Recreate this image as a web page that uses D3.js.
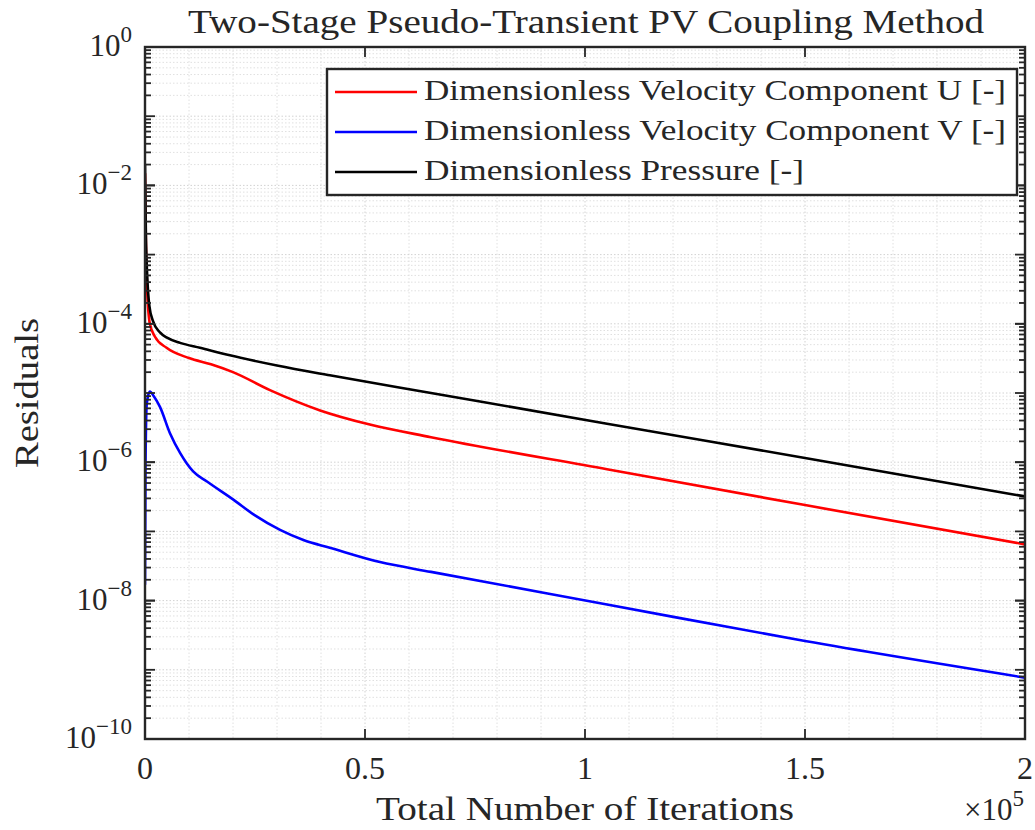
<!DOCTYPE html>
<html>
<head>
<meta charset="utf-8">
<script src="https://cdn.jsdelivr.net/npm/d3@7"></script>
<style>
  body { margin: 0; background: #fff; }
  svg text { font-family: "Liberation Serif", "DejaVu Serif", serif; fill: #262626; }
</style>
</head>
<body>
<svg id="chart" width="1035" height="830"></svg>
<script>
// residual history
var itersU = [0, 200, 500, 1100, 2270, 4900, 10000, 15000, 20000, 28400, 39800, 51100, 65000, 105000, 150000, 200000];
var residU = [1.5e-2, 1.5e-3, 3e-4, 1.0e-4, 6.5e-5, 4.5e-5, 3.2e-5, 2.6e-5, 2.0e-5, 1.1e-5, 5.6e-6, 3.5e-6, 2.3e-6, 7.9e-7, 2.4e-7, 6.5e-8];

var itersV = [0, 120, 400, 1100, 2000, 3400, 5700, 8000, 9500, 11000, 14000, 20000, 25000, 30700, 36000, 42000, 53400, 65000, 105000, 150000, 200000];
var residV = [1.7e-8, 1e-6, 7e-6, 1.05e-5, 9e-6, 6.3e-6, 2.6e-6, 1.35e-6, 9.6e-7, 7.3e-7, 5.3e-7, 2.9e-7, 1.7e-7, 1.05e-7, 7.5e-8, 5.8e-8, 3.6e-8, 2.6e-8, 8.8e-9, 2.6e-9, 7.7e-10];

var itersP = [0, 200, 500, 1000, 1800, 3400, 5000, 8000, 12500, 19300, 30000, 42000, 65000, 105000, 150000, 200000];
var residP = [2e-2, 2e-3, 5e-4, 1.8e-4, 1.1e-4, 7.5e-5, 6.3e-5, 5.3e-5, 4.5e-5, 3.5e-5, 2.5e-5, 1.8e-5, 1.0e-5, 3.6e-6, 1.15e-6, 3.2e-7];

var legendLabels = ['Dimensionless Velocity Component U [-]', 'Dimensionless Velocity Component V [-]', 'Dimensionless Pressure [-]'];
var xTicks = [0, 0.5, 1, 1.5, 2];          // x 10^5
var yTickExps = [0, -2, -4, -6, -8, -10];

var colors = ['#ff0000', '#0000ff', '#000000'];
var series = [
  {x: itersU, y: residU},
  {x: itersV, y: residV},
  {x: itersP, y: residP}
];

var svg = d3.select('#chart');
var L = 145, R = 1025, T = 47, B = 739;
var W = R - L, H = B - T;
var axisColor = '#262626';

var x = d3.scaleLinear().domain([0, 2e5]).range([L, R]);
var y = d3.scaleLog().domain([1e-10, 1]).range([B, T]);

svg.append('rect').attr('x', L).attr('y', T).attr('width', W).attr('height', H).attr('fill', '#fff');

// grid: minor then major
var xMinor = d3.range(0, 2.0001e5, 1e4).filter(function(d){ return d % 5e4 !== 0; });
var xMajor = xTicks.map(function(d){ return d * 1e5; }).filter(function(d){ return d > 0 && d < 2e5; });
var yMinor = [], yMajor = [];
for (var e = -10; e < 0; e++) {
  for (var m = 2; m <= 9; m++) yMinor.push(m * Math.pow(10, e));
  if (e > -10) yMajor.push(Math.pow(10, e));
}

var grid = svg.append('g').attr('stroke-width', 1).attr('stroke-dasharray', '1.5,2');
function vgrid(vals, col) {
  grid.append('g').selectAll('line').data(vals).enter().append('line')
    .attr('x1', function(d){ return x(d); }).attr('x2', function(d){ return x(d); })
    .attr('y1', T).attr('y2', B).attr('stroke', col);
}
function hgrid(vals, col) {
  grid.append('g').selectAll('line').data(vals).enter().append('line')
    .attr('x1', L).attr('x2', R)
    .attr('y1', function(d){ return y(d); }).attr('y2', function(d){ return y(d); })
    .attr('stroke', col);
}
vgrid(xMinor, '#e0e0e0');
hgrid(yMinor, '#e0e0e0');
vgrid(xMajor, '#d2d2d2');
hgrid(yMajor, '#d2d2d2');

// curves
svg.append('clipPath').attr('id', 'clip').append('rect')
  .attr('x', L).attr('y', T).attr('width', W).attr('height', H);

var line = d3.line()
  .x(function(d){ return x(d[0]); })
  .y(function(d){ return y(d[1]); })
  .curve(d3.curveMonotoneX);

var curves = svg.append('g').attr('clip-path', 'url(#clip)');
series.forEach(function(s, i){
  curves.append('path')
    .datum(d3.zip(s.x, s.y))
    .attr('d', line)
    .attr('fill', 'none')
    .attr('stroke', colors[i])
    .attr('stroke-width', 2.6)
    .attr('stroke-linejoin', 'round');
});

// ticks (inward, all four sides)
var ticks = svg.append('g').attr('stroke', axisColor).attr('stroke-width', 1.8);
yTickExps.forEach(function(e){ yMajor.push(Math.pow(10, e)); });
yMajor.forEach(function(v){
  ticks.append('line').attr('x1', L).attr('x2', L + 10).attr('y1', y(v)).attr('y2', y(v));
  ticks.append('line').attr('x1', R).attr('x2', R - 10).attr('y1', y(v)).attr('y2', y(v));
});
yMinor.forEach(function(v){
  ticks.append('line').attr('x1', L).attr('x2', L + 6).attr('y1', y(v)).attr('y2', y(v));
  ticks.append('line').attr('x1', R).attr('x2', R - 6).attr('y1', y(v)).attr('y2', y(v));
});
xTicks.forEach(function(t){
  var px = x(t * 1e5);
  ticks.append('line').attr('x1', px).attr('x2', px).attr('y1', B).attr('y2', B - 10);
  ticks.append('line').attr('x1', px).attr('x2', px).attr('y1', T).attr('y2', T + 10);
});

// box
svg.append('rect').attr('x', L).attr('y', T).attr('width', W).attr('height', H)
  .attr('fill', 'none').attr('stroke', axisColor).attr('stroke-width', 2.4);

// x tick labels
svg.append('g').selectAll('text').data(xTicks).enter().append('text')
  .attr('x', function(d){ return x(d * 1e5); })
  .attr('y', 779)
  .attr('text-anchor', 'middle')
  .attr('font-size', 32)
  .text(function(d){ return d3.format('')(d); });

// y tick labels: 10^e
var yl = svg.append('g');
yTickExps.forEach(function(e){
  var t = yl.append('text')
    .attr('x', 132)
    .attr('y', y(Math.pow(10, e)) + 9)
    .attr('text-anchor', 'end')
    .attr('font-size', 31);
  t.append('tspan').text('10');
  t.append('tspan').attr('dy', -14).attr('font-size', 23)
    .text(e === 0 ? '0' : '\u2212' + Math.abs(e));
});

// exponent label
var ex = svg.append('text').attr('x', 1024).attr('y', 820).attr('text-anchor', 'end').attr('font-size', 31);
ex.append('tspan').text('\u00d710');
ex.append('tspan').attr('dy', -14).attr('font-size', 23).text('5');

// axis labels and title
svg.append('text').attr('x', 585).attr('y', 820).attr('text-anchor', 'middle')
  .attr('font-size', 33).attr('textLength', 418).attr('lengthAdjust', 'spacingAndGlyphs')
  .text('Total Number of Iterations');
svg.append('text').attr('transform', 'translate(38,393) rotate(-90)').attr('text-anchor', 'middle')
  .attr('font-size', 33).attr('textLength', 150).attr('lengthAdjust', 'spacingAndGlyphs')
  .text('Residuals');
svg.append('text').attr('x', 586).attr('y', 33).attr('text-anchor', 'middle')
  .attr('font-size', 34).attr('textLength', 796).attr('lengthAdjust', 'spacingAndGlyphs')
  .text('Two-Stage Pseudo-Transient PV Coupling Method');

// legend
var leg = svg.append('g');
leg.append('rect').attr('x', 327).attr('y', 69).attr('width', 690).attr('height', 126)
  .attr('fill', '#fff').attr('stroke', axisColor).attr('stroke-width', 2.4);
var legWidths = [582, 582, 380];
legendLabels.forEach(function(lab, i){
  var by = 100 + i * 40;
  leg.append('line').attr('x1', 335).attr('x2', 417).attr('y1', by - 8).attr('y2', by - 8)
    .attr('stroke', colors[i]).attr('stroke-width', 2.6);
  leg.append('text').attr('x', 424).attr('y', by).attr('font-size', 30)
    .attr('textLength', legWidths[i]).attr('lengthAdjust', 'spacingAndGlyphs')
    .text(lab);
});
</script>
</body>
</html>
